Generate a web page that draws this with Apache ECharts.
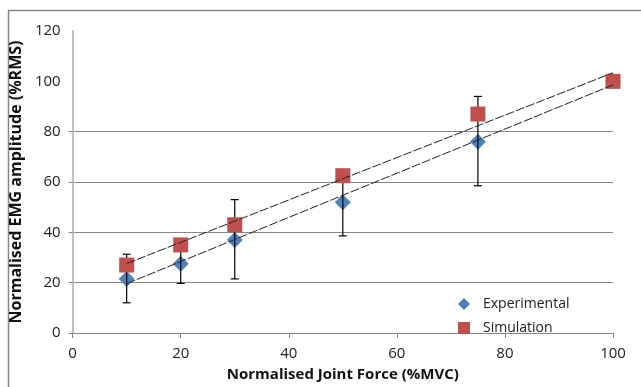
<!DOCTYPE html>
<html><head><meta charset="utf-8">
<script src="https://cdn.jsdelivr.net/npm/echarts@6/dist/echarts.min.js"></script>
<style>html,body{margin:0;padding:0;background:#fff}#c{width:641px;height:387px}</style>
</head><body><div id="c"></div>
<script>
var xValues = [10, 20, 30, 50, 75, 100];
var experimental = [21.5, 27.5, 37, 52, 76, 100];
var simulation = [27, 35, 43, 62.5, 87, 100];
var expLow = [12, 19.7, 21.5, 38.6, 58.5, 100];
var expHigh = [31.3, 35, 53, 64.5, 94, 100];
var expTrendX = [10, 100];
var expTrendY = [19.6, 98.6];
var simTrendX = [10, 100];
var simTrendY = [27.6, 103.4];
var xTicks = [0, 20, 40, 60, 80, 100];
var yTicks = [0, 20, 40, 60, 80, 100, 120];

function pairs(xs, ys) { return xs.map(function (x, i) { return [x, ys[i]]; }); }
var errData = xValues.map(function (x, i) { return [x, expLow[i], expHigh[i]]; });

var FONT = '"Open Sans", sans-serif';
var chart = echarts.init(document.getElementById('c'), null, {renderer: 'canvas'});
chart.setOption({
  animation: false,
  backgroundColor: '#fff',
  grid: {left: 72, right: 28, top: 31, bottom: 48, containLabel: false},
  graphic: [{
    type: 'rect', shape: {x: 8.5, y: 10.5, width: 800, height: 500}, silent: true, z: -10,
    style: {fill: 'none', stroke: '#878787', lineWidth: 1.5}
  }],
  legend: {
    orient: 'vertical', left: 453, top: 292, itemWidth: 12, itemHeight: 12, itemGap: 10,
    data: [{name: 'Experimental', icon: 'diamond'}, {name: 'Simulation', icon: 'rect'}],
    textStyle: {fontFamily: FONT, fontSize: 14, color: '#222', padding: [0, 0, 0, 8]}
  },
  xAxis: {
    type: 'value', min: 0, max: 100, interval: 20,
    axisLine: {show: true, onZero: false, lineStyle: {color: '#878787', width: 1}},
    axisTick: {show: true, length: 5, lineStyle: {color: '#878787'}},
    splitLine: {show: false},
    axisLabel: {margin: 13, fontFamily: FONT, fontSize: 15, color: '#222', customValues: xTicks},
    name: 'Normalised Joint Force (%MVC)', nameLocation: 'middle', nameGap: 34,
    nameTextStyle: {fontFamily: FONT, fontSize: 15, fontWeight: 'bold', color: '#111'}
  },
  yAxis: {
    type: 'value', min: 0, max: 120, interval: 20,
    axisLine: {show: true, lineStyle: {color: '#c0c0c0', width: 2}},
    axisTick: {show: true, length: 4, lineStyle: {color: '#878787'}, customValues: [0, 20, 40, 60, 80]},
    splitLine: {show: true, lineStyle: {color: ['#878787', '#878787', '#878787', '#878787', '#878787', 'rgba(0,0,0,0)', 'rgba(0,0,0,0)'], width: 1}},
    axisLabel: {margin: 12, fontFamily: FONT, fontSize: 15, color: '#222', customValues: yTicks},
    name: 'Normalised EMG amplitude (%RMS)', nameLocation: 'middle', nameGap: 44,
    nameTextStyle: {fontFamily: FONT, fontSize: 16, fontWeight: 'bold', color: '#111'}
  },
  series: [
    {
      name: 'Experimental', type: 'scatter', symbol: 'diamond', symbolSize: 16, z: 2,
      itemStyle: {color: '#4F81BD', opacity: 1}, data: pairs(xValues, experimental)
    },
    {
      name: 'ExpErr', type: 'custom', z: 3, data: errData,
      renderItem: function (params, api) {
        var x = api.value(0);
        var lo = api.coord([x, api.value(1)]);
        var hi = api.coord([x, api.value(2)]);
        var w = 4;
        var st = {stroke: '#000', lineWidth: 1.2};
        return {type: 'group', children: [
          {type: 'line', shape: {x1: lo[0], y1: lo[1], x2: hi[0], y2: hi[1]}, style: st},
          {type: 'line', shape: {x1: lo[0] - w, y1: lo[1], x2: lo[0] + w, y2: lo[1]}, style: st},
          {type: 'line', shape: {x1: hi[0] - w, y1: hi[1], x2: hi[0] + w, y2: hi[1]}, style: st}
        ]};
      }
    },
    {
      name: 'Simulation', type: 'scatter', symbol: 'rect', symbolSize: 15, z: 4,
      itemStyle: {color: '#C0504D', opacity: 1}, data: pairs(xValues, simulation)
    },
    {
      name: 'ExpTrend', type: 'line', showSymbol: false, symbol: 'none', z: 5,
      lineStyle: {color: '#222', width: 1, type: [9, 2]}, data: pairs(expTrendX, expTrendY)
    },
    {
      name: 'SimTrend', type: 'line', showSymbol: false, symbol: 'none', z: 5,
      lineStyle: {color: '#222', width: 1, type: [9, 2]}, data: pairs(simTrendX, simTrendY)
    }
  ]
});
</script></body></html>
